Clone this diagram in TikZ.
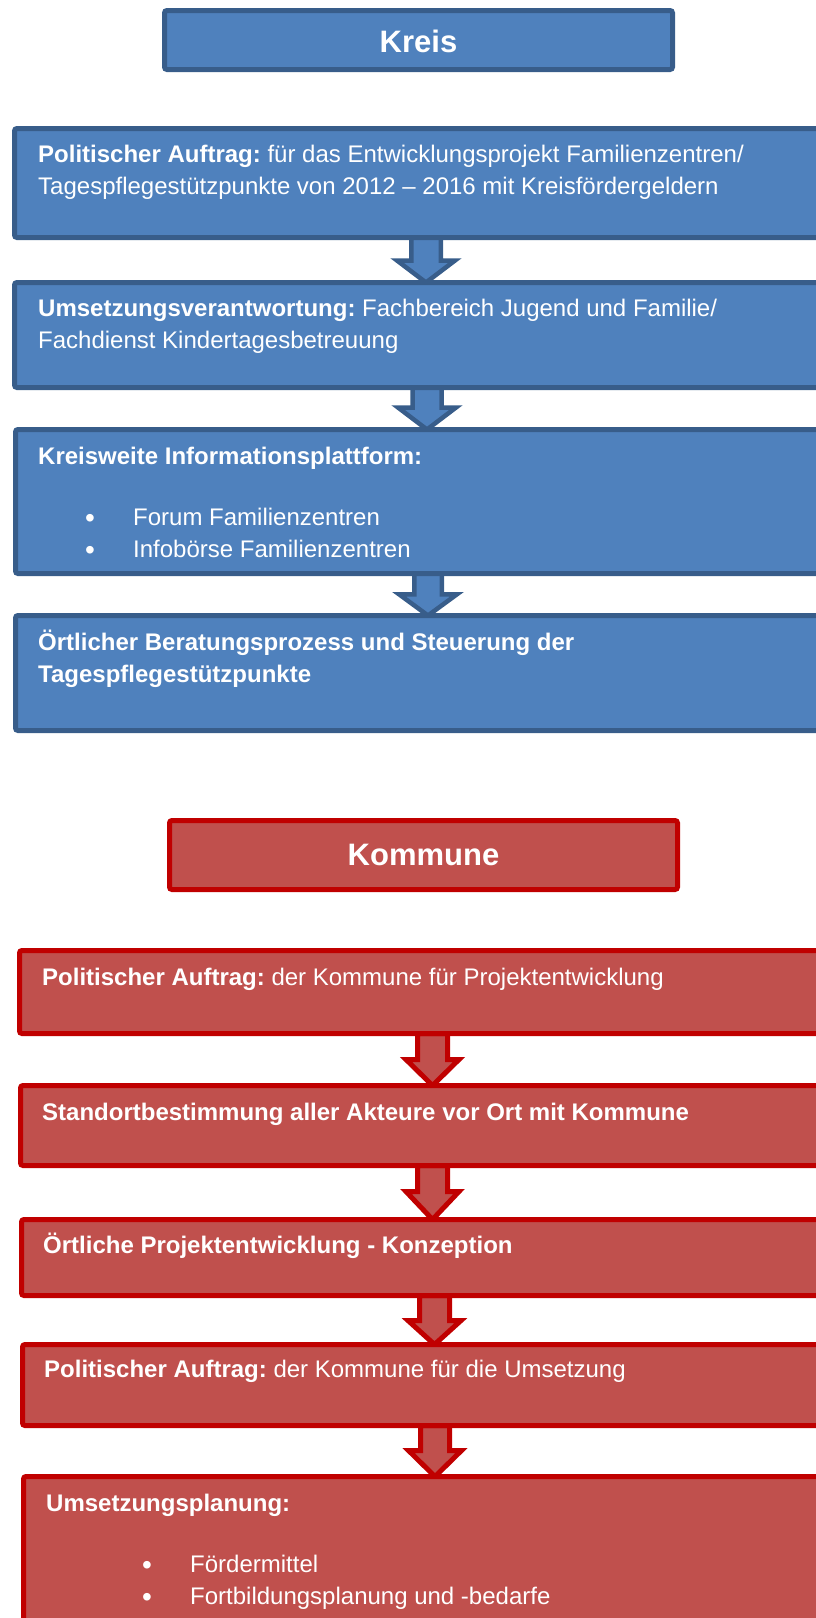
\documentclass[tikz,border=0pt]{standalone}
\usepackage{fontspec}
\setmainfont{Liberation Sans}
\definecolor{kfill}{HTML}{4F81BD}
\definecolor{kline}{HTML}{385D8A}
\definecolor{rfill}{HTML}{C0504D}
\definecolor{rline}{HTML}{C00000}
\pgfdeclarelayer{bg}
\pgfsetlayers{bg,main}
\frenchspacing
\newcommand\txtsize{\fontsize{24}{32}\selectfont}
\newcommand\headsize{\fontsize{31}{38}\selectfont}
\begin{document}
\begin{tikzpicture}[x=1pt,y=-1pt,
  box/.style={rectangle, anchor=north west, inner sep=0pt, outer sep=0pt, line width=5pt, rounded corners=2.5pt},
  kbox/.style={box, draw=kline, fill=kfill},
  rbox/.style={box, draw=rline, fill=rfill},
  karr/.style={draw=kline, fill=kfill, line width=4.5pt, line join=miter},
  rarr/.style={draw=rline, fill=rfill, line width=5pt, line join=miter},
  txt/.style={anchor=base west, inner sep=0pt, text=white, font=\txtsize\frenchspacing},
  bul/.style={anchor=base, inner sep=0pt, text=white, font=\fontsize{28}{32}\selectfont},
  ttl/.style={anchor=base, inner sep=0pt, text=white, font=\headsize\bfseries},
]
\useasboundingbox (0,0) rectangle (816,1618);
\clip (0,0) rectangle (816,1618);

% ---------- Kreis ----------
\node[kbox, minimum width=508pt, minimum height=59pt] (kreis) at (164.5,10.5) {};
\node[ttl] (kreist) at (418.5,52) {Kreis};

\node[kbox, minimum width=825.5pt, minimum height=109pt] (b1) at (14.5,128.5) {};
\node[txt] (t1a) at (38,162) {\textbf{Politischer Auftrag:} für das Entwicklungsprojekt Familienzentren/};
\node[txt] (t1b) at (38,194) {Tagespflegestützpunkte von 2012 – 2016 mit Kreisfördergeldern};

\node[kbox, minimum width=825.5pt, minimum height=105pt] (b2) at (14.5,282.5) {};
\node[txt] (t2a) at (38,316) {\textbf{Umsetzungsverantwortung:} Fachbereich Jugend und Familie/};
\node[txt] (t2b) at (38,348) {Fachdienst Kindertagesbetreuung};

\node[kbox, minimum width=824.5pt, minimum height=144pt] (b3) at (15.5,429.5) {};
\node[txt] (t3a) at (38,464) {\textbf{Kreisweite Informationsplattform:}};
\node[bul] (u3a) at (90,527) {•};
\node[txt] (t3b) at (133,525) {Forum Familienzentren};
\node[bul] (u3b) at (90,559) {•};
\node[txt] (t3c) at (133,557) {Infobörse Familienzentren};

\node[kbox, minimum width=824.5pt, minimum height=115pt] (b4) at (15.5,615.5) {};
\node[txt] (t4a) at (38,650) {\textbf{Örtlicher Beratungsprozess und Steuerung der}};
\node[txt] (t4b) at (38,682) {\textbf{Tagespflegestützpunkte}};

% ---------- Kommune ----------
\node[rbox, minimum width=508pt, minimum height=69pt] (kommune) at (169.5,820.5) {};
\node[ttl] (kommunet) at (423.5,865) {Kommune};

\node[rbox, minimum width=820.5pt, minimum height=83pt] (b5) at (19.5,950.5) {};
\node[txt] (t5) at (42,985) {\textbf{Politischer Auftrag:} der Kommune für Projektentwicklung};

\node[rbox, minimum width=819.5pt, minimum height=80pt] (b6) at (20.5,1085.5) {};
\node[txt] (t6) at (42,1120) {\textbf{Standortbestimmung aller Akteure vor Ort mit Kommune}};

\node[rbox, minimum width=818.5pt, minimum height=76pt] (b7) at (21.5,1219.5) {};
\node[txt] (t7) at (43,1253) {\textbf{Örtliche Projektentwicklung - Konzeption}};

\node[rbox, minimum width=817.5pt, minimum height=81pt] (b8) at (22.5,1344.5) {};
\node[txt] (t8) at (44,1377) {\textbf{Politischer Auftrag:} der Kommune für die Umsetzung};

\node[rbox, minimum width=816.5pt, minimum height=200pt] (b9) at (23.5,1476.5) {};
\node[txt] (t9a) at (46,1511) {\textbf{Umsetzungsplanung:}};
\node[bul] (u9a) at (147,1574) {•};
\node[txt] (t9b) at (190,1572) {Fördermittel};
\node[bul] (u9b) at (147,1606) {•};
\node[txt] (t9c) at (190,1604) {Fortbildungsplanung und -bedarfe};

% ---------- arrows (behind the boxes) ----------
\begin{pgfonlayer}{bg}
\draw[karr] (411.25,0 |- b1.south) -- (411.25,260.5) -- (397,260.5) -- (426,0 |- b2.north)
  -- (455,260.5) -- (440.75,260.5) -- (440.75,0 |- b1.south) -- cycle;
\draw[karr] (412.5,0 |- b2.south) -- (412.5,407.5) -- (398,407.5) -- (427,0 |- b3.north)
  -- (456,407.5) -- (441.5,407.5) -- (441.5,0 |- b2.south) -- cycle;
\draw[karr] (414.25,0 |- b3.south) -- (414.25,594.25) -- (399,594.25) -- (428,0 |- b4.north)
  -- (457,594.25) -- (441.75,594.25) -- (441.75,0 |- b3.south) -- cycle;

\draw[rarr] (417.5,0 |- b5.south) -- (417.5,1059.5) -- (406,1059.5) -- (432.5,0 |- b6.north)
  -- (459,1059.5) -- (447.5,1059.5) -- (447.5,0 |- b5.south) -- cycle;
\draw[rarr] (417.5,0 |- b6.south) -- (417.5,1191.5) -- (406,1191.5) -- (432.5,0 |- b7.north)
  -- (459,1191.5) -- (447.5,1191.5) -- (447.5,0 |- b6.south) -- cycle;
\draw[rarr] (419.5,0 |- b7.south) -- (419.5,1320.5) -- (408,1320.5) -- (434.5,0 |- b8.north)
  -- (461,1320.5) -- (449.5,1320.5) -- (449.5,0 |- b7.south) -- cycle;
\draw[rarr] (420.5,0 |- b8.south) -- (420.5,1450.5) -- (408.5,1450.5) -- (435,0 |- b9.north)
  -- (461.5,1450.5) -- (449.5,1450.5) -- (449.5,0 |- b8.south) -- cycle;
\end{pgfonlayer}
\end{tikzpicture}
\end{document}
